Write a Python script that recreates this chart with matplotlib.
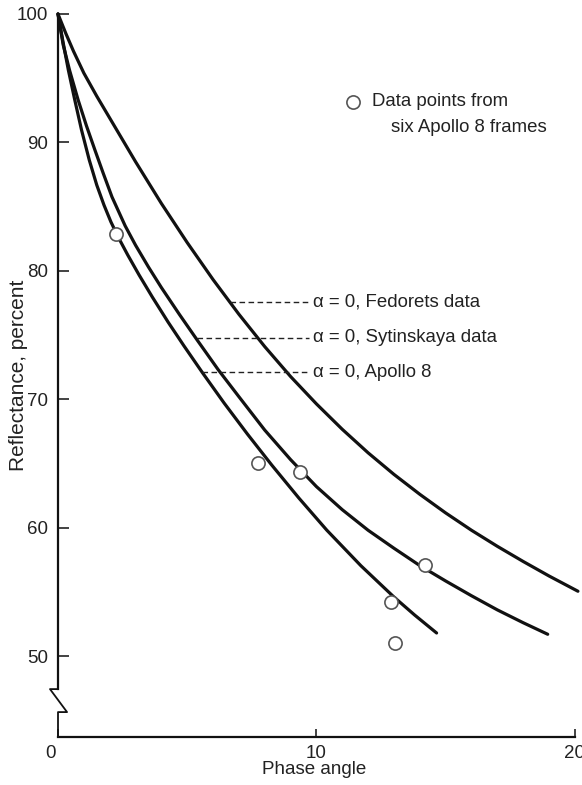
import numpy as np
import matplotlib
matplotlib.use("Agg")
import matplotlib.pyplot as plt
import matplotlib.transforms as mtransforms

plt.rcParams['font.family'] = ['Liberation Sans Narrow', 'Liberation Sans', 'DejaVu Sans']

# curves (phase angle, reflectance %)
apollo_x = [0, 0.18, 0.40, 0.65, 0.91, 1.21, 1.50, 1.78, 2.05, 2.35, 2.70, 3.14,
            3.65, 4.26, 4.88, 5.60, 6.43, 7.33, 8.27, 9.32, 10.40, 11.72, 13.0, 13.8, 14.65]
apollo_y = [100, 97.98, 95.64, 93.30, 90.97, 88.63, 86.68, 85.12, 83.80, 82.55, 81.23, 79.67,
            77.96, 76.01, 74.14, 72.04, 69.70, 67.29, 64.88, 62.31, 59.81, 57.04, 54.6, 53.2, 51.8]

sytin_x = [0, 0.2, 0.45, 0.78, 1.1, 1.43, 1.75, 2.09, 2.6, 3.0, 3.5, 4.0, 4.7, 5.39,
           6.2, 7.0, 8.0, 9.0, 10.0, 11.0, 12.0, 13.0, 14.0, 15.0, 16.0, 17.0, 18.0, 18.95]
sytin_y = [100, 97.6, 95.6, 93.3, 91.3, 89.4, 87.6, 85.75, 83.5, 82.0, 80.3, 78.7, 76.6, 74.6,
           72.3, 70.2, 67.6, 65.3, 63.2, 61.4, 59.8, 58.4, 57.05, 55.85, 54.7, 53.6, 52.6, 51.7]

fedor_x = [0, 0.3, 0.6, 1.0, 1.5, 2, 3, 4, 5, 6, 7, 8, 9, 10, 11, 12, 13, 14, 15,
           16, 17, 18, 19, 20.12]
fedor_y = [100, 98.5, 97.1, 95.4, 93.6, 91.9, 88.5, 85.25, 82.2, 79.32, 76.62, 74.1, 71.77,
           69.64, 67.66, 65.83, 64.15, 62.6, 61.15, 59.8, 58.55, 57.37, 56.24, 55.05]

# data points from six Apollo 8 frames
pts_x = [2.25, 7.75, 9.38, 12.9, 13.06, 14.22]
pts_y = [82.9, 65.0, 64.3, 54.2, 51.0, 57.1]

labels = ["\u03b1 = 0, Fedorets data", "\u03b1 = 0, Sytinskaya data", "\u03b1 = 0, Apollo 8"]
label_y = [77.6, 74.8, 72.1]
label_x0 = [6.67, 5.39, 5.58]

fig = plt.figure(figsize=(5.82, 7.85), dpi=100)
ax = fig.add_axes([58/582, 48/785, 522/582, 723/785])

lw = 2.3
for xs, ys in [(apollo_x, apollo_y), (sytin_x, sytin_y), (fedor_x, fedor_y)]:
    ax.plot(xs, ys, color='#111111', lw=lw, solid_capstyle='round',
            solid_joinstyle='round', clip_on=False)

ax.plot(pts_x, pts_y, 'o', ms=9.5, mfc='white', mec='#555555', mew=1.2,
        clip_on=False, zorder=5)

# annotation leaders
for t, yy, x0 in zip(labels, label_y, label_x0):
    ax.plot([x0, 9.7], [yy, yy], ls=(0, (4, 2.5)), color='#222222', lw=1.0)
    ax.text(9.85, yy, t, fontsize=13.4, va='center', ha='left', color='#222222')

# legend
ax.plot([11.4], [93.15], 'o', ms=9.5, mfc='white', mec='#555555', mew=1.2)
ax.text(12.15, 93.15, "Data points from", fontsize=13.4, va='center', color='#222222')
ax.text(12.88, 91.2, "six Apollo 8 frames", fontsize=13.4, va='center', color='#222222')

ax.set_xlim(0, 20.2)
ax.set_ylim(43.7, 100)

for s in ['top', 'right']:
    ax.spines[s].set_visible(False)
ax.spines['left'].set_bounds(47.43, 100)
ax.spines['bottom'].set_bounds(0, 20)
for s in ['left', 'bottom']:
    ax.spines[s].set_linewidth(1.6)
    ax.spines[s].set_color('#111111')

# axis break on the y axis
ax.plot([0, -0.31, 0.35, 0, 0], [47.43, 47.43, 45.64, 45.64, 43.7],
        color='#111111', lw=1.3, clip_on=False)

ax.set_yticks([50, 60, 70, 80, 90, 100])
ax.set_xticks([0, 10, 20])
ax.tick_params(axis='y', direction='in', length=8, width=1.2, pad=7,
               labelsize=13.5, colors='#222222')
ax.tick_params(axis='x', direction='in', length=6, width=1.2, pad=6,
               labelsize=13.5, colors='#222222')
offset = mtransforms.ScaledTranslation(-8/100, 0, fig.dpi_scale_trans)
lab0 = ax.get_xticklabels()[0]
lab0.set_transform(lab0.get_transform() + offset)

ax.set_xlabel("Phase angle", fontsize=13.5, color='#222222')
ax.set_ylabel("Reflectance, percent", fontsize=15, color='#222222')
ax.xaxis.set_label_coords(0.49, -0.033)
ax.yaxis.set_label_coords(-0.058, 0.5)

fig.savefig("out.png", dpi=100)
